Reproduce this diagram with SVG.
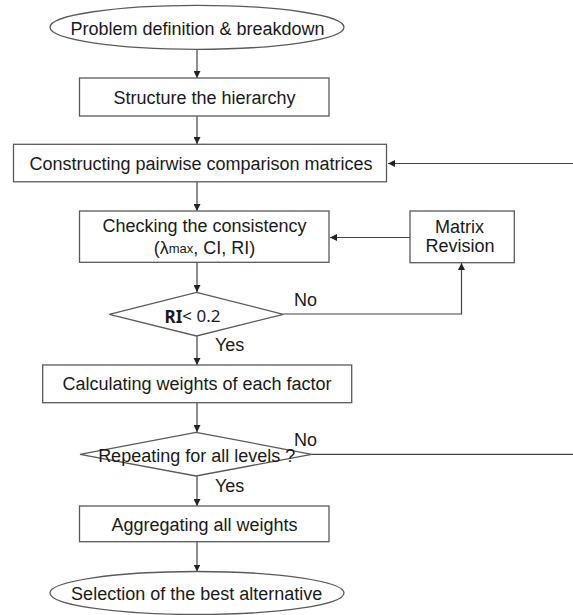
<svg xmlns="http://www.w3.org/2000/svg" width="573" height="615" viewBox="0 0 573 615">
<style>
.n{fill:#fff;stroke:#5a5a5a;stroke-width:1.3}
.c{fill:none;stroke:#444;stroke-width:1.2}
text{font-family:"Liberation Sans",Arial,sans-serif;font-size:18px;fill:#1a1a1a;text-anchor:middle;dominant-baseline:central}
.l{text-anchor:start}
.ri{font-family:"Noto Sans","Liberation Sans",sans-serif;font-size:17px}
</style>
<defs>
<marker id="a" viewBox="0 0 10 10" refX="10" refY="5" markerWidth="7" markerHeight="7" markerUnits="userSpaceOnUse" orient="auto">
<path d="M0,0 L10,5 L0,10 Z" fill="#222"/>
</marker>
</defs>
<rect width="573" height="615" fill="#fff"/>
<g id="connectors">
<line class="c" x1="197" y1="49" x2="197" y2="78" marker-end="url(#a)"/>
<line class="c" x1="197" y1="116" x2="197" y2="144" marker-end="url(#a)"/>
<line class="c" x1="573" y1="163.5" x2="388" y2="163.5" marker-end="url(#a)"/>
<line class="c" x1="197" y1="182" x2="197" y2="211" marker-end="url(#a)"/>
<line class="c" x1="410" y1="237.5" x2="330" y2="237.5" marker-end="url(#a)"/>
<line class="c" x1="197" y1="262" x2="197" y2="292" marker-end="url(#a)"/>
<polyline class="c" points="283,314 461.5,314 461.5,263" marker-end="url(#a)"/>
<line class="c" x1="197" y1="336" x2="197" y2="365" marker-end="url(#a)"/>
<line class="c" x1="197" y1="403" x2="197" y2="432" marker-end="url(#a)"/>
<line class="c" x1="311.5" y1="454.3" x2="573" y2="454.3"/>
<line class="c" x1="197" y1="476" x2="197" y2="506" marker-end="url(#a)"/>
<line class="c" x1="197" y1="542" x2="197" y2="571.5" marker-end="url(#a)"/>
<text x="294" y="300" class="l">No</text>
<text x="215" y="345" class="l">Yes</text>
<text x="294" y="440" class="l">No</text>
<text x="215" y="486" class="l">Yes</text>
</g>
<g id="start">
<ellipse class="n" cx="197" cy="27.3" rx="147" ry="22"/>
<text x="197.5" y="28.5">Problem definition &amp; breakdown</text>
</g>
<g id="structure">
<rect class="n" x="79.5" y="78" width="249.5" height="38"/>
<text x="204.5" y="97.5">Structure the hierarchy</text>
</g>
<g id="pairwise">
<rect class="n" x="13.5" y="144.3" width="373" height="37.5"/>
<text x="201" y="163.5">Constructing pairwise comparison matrices</text>
</g>
<g id="consistency">
<rect class="n" x="79.5" y="211" width="249.5" height="51.3"/>
<text x="204.5" y="225.5">Checking the consistency</text>
<text x="204.5" y="248">(λ<tspan font-size="13">max</tspan>, CI, RI)</text>
</g>
<g id="revision">
<rect class="n" x="410" y="211" width="104.3" height="51.7"/>
<text x="459.5" y="227">Matrix</text>
<text x="460" y="246">Revision</text>
</g>
<g id="ri">
<polygon class="n" points="196.5,292.3 283.3,314.3 196.5,336 109.3,314.3"/>
<text x="192.5" y="315.5" class="ri"><tspan font-weight="bold">RI</tspan>&lt; 0.2</text>
</g>
<g id="weights">
<rect class="n" x="42.7" y="365" width="309" height="37.7"/>
<text x="197" y="383.5">Calculating weights of each factor</text>
</g>
<g id="repeat">
<polygon class="n" points="196,432.3 311.7,454.3 196,476 80,454.3"/>
<text x="196.7" y="455.5">Repeating for all levels ?</text>
</g>
<g id="aggregate">
<rect class="n" x="79.5" y="506" width="249.5" height="35.7"/>
<text x="204.5" y="524.5">Aggregating all weights</text>
</g>
<g id="end">
<ellipse class="n" cx="197" cy="593" rx="147" ry="21.5"/>
<text x="196.7" y="593.5">Selection of the best alternative</text>
</g>
</svg>
